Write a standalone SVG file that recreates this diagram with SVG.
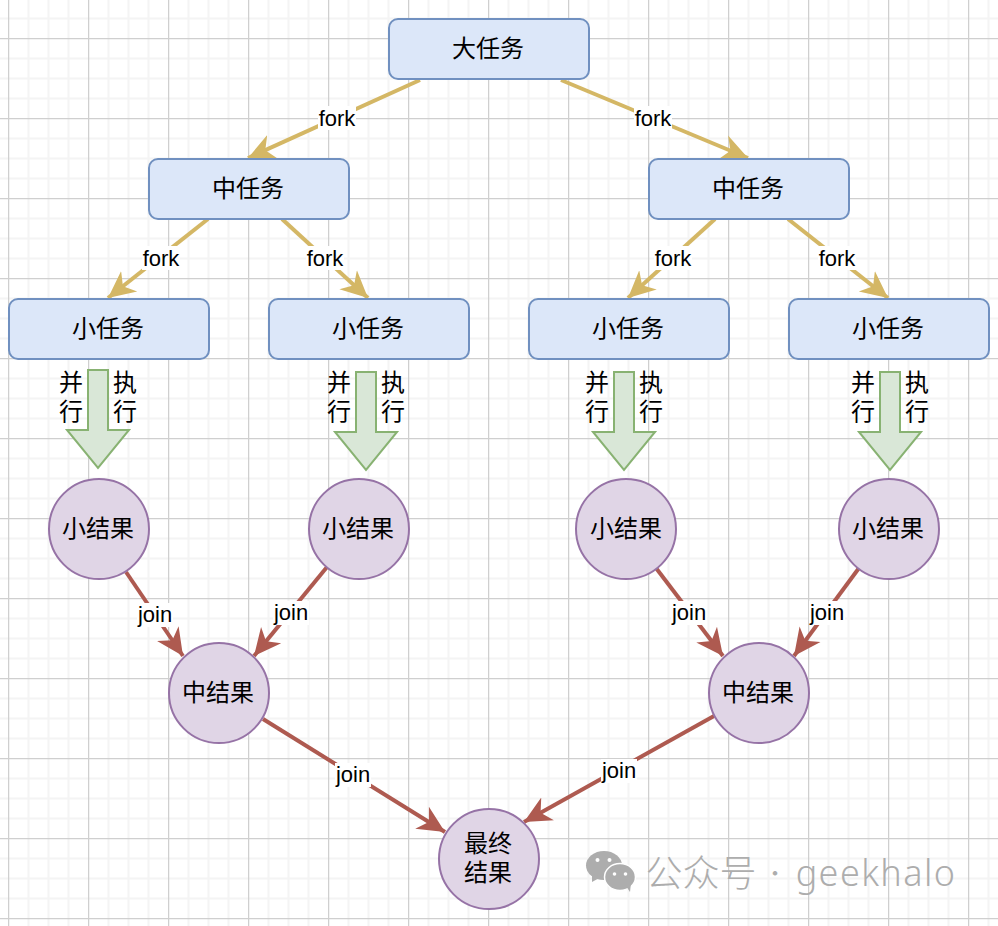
<svg xmlns="http://www.w3.org/2000/svg" width="998" height="926" viewBox="0 0 998 926">
<style>
.box{fill:#dce7f9;stroke:#7090c0;stroke-width:2}
.cir{fill:#e0d5e6;stroke:#9673a6;stroke-width:2}
.blk{fill:#d9e7d7;stroke:#88b272;stroke-width:2}
text{font-family:"Noto Sans CJK SC","Liberation Sans",sans-serif;fill:#000;text-anchor:middle;dominant-baseline:central}
.n{font-size:24px}
.l{font-family:"Liberation Sans",Arial,sans-serif;font-size:22px}
.bg{fill:#fff}
.f{fill:none;stroke:#d4b765;stroke-width:4;marker-end:url(#af)}
.j{fill:none;stroke:#ae5a50;stroke-width:4;marker-end:url(#aj)}
.w{fill:#adadad;font-weight:300}
</style>
<defs>
<pattern id="g" patternUnits="userSpaceOnUse" x="8" y="38" width="80" height="80">
<path d="M20.5 0V80M40.5 0V80M60.5 0V80M0 20.5H80M0 40.5H80M0 60.5H80" stroke="#f4f4f4" stroke-width="2" fill="none"/>
<path d="M.5 0V80M0 .5H80" stroke="#cfcfcf" stroke-width="1.5" fill="none"/>
</pattern>
<marker id="af" markerUnits="userSpaceOnUse" viewBox="0 0 28 28" refX="27" refY="14" markerWidth="28" markerHeight="28" orient="auto">
<path d="M27 14L0 1L8 14L0 27Z" fill="#d4b765"/>
</marker>
<marker id="aj" markerUnits="userSpaceOnUse" viewBox="0 0 28 28" refX="27" refY="14" markerWidth="28" markerHeight="28" orient="auto">
<path d="M27 14L0 1L8 14L0 27Z" fill="#ae5a50"/>
</marker>
</defs>
<rect width="998" height="926" fill="#fff"/>
<rect width="998" height="926" fill="url(#g)"/>
<g id="connectors">
<path class="f" d="M420 80L248 158"/>
<path class="f" d="M561 80L748 158"/>
<path class="f" d="M208 219L108 298"/>
<path class="f" d="M282 219L368 298"/>
<path class="f" d="M715 219L628 298"/>
<path class="f" d="M788 219L888 298"/>
<path class="j" d="M126 572L183 656"/>
<path class="j" d="M327 567L254 656"/>
<path class="j" d="M263 719L445 832"/>
<path class="j" d="M656 568L723 656"/>
<path class="j" d="M859 568L794 656"/>
<path class="j" d="M714 716L524 822"/>
<rect class="bg" x="318" y="106" width="38" height="24"/><text class="l" x="337" y="118">fork</text>
<rect class="bg" x="634" y="106" width="38" height="24"/><text class="l" x="653" y="118">fork</text>
<rect class="bg" x="142" y="246" width="38" height="24"/><text class="l" x="161" y="258">fork</text>
<rect class="bg" x="306" y="246" width="38" height="24"/><text class="l" x="325" y="258">fork</text>
<rect class="bg" x="654" y="246" width="38" height="24"/><text class="l" x="673" y="258">fork</text>
<rect class="bg" x="818" y="246" width="38" height="24"/><text class="l" x="837" y="258">fork</text>
<rect class="bg" x="137" y="603" width="36" height="24"/><text class="l" x="155" y="614">join</text>
<rect class="bg" x="273" y="601" width="36" height="24"/><text class="l" x="291" y="612">join</text>
<rect class="bg" x="335" y="763" width="36" height="24"/><text class="l" x="353" y="774">join</text>
<rect class="bg" x="671" y="601" width="36" height="24"/><text class="l" x="689" y="612">join</text>
<rect class="bg" x="809" y="601" width="36" height="24"/><text class="l" x="827" y="612">join</text>
<rect class="bg" x="601" y="759" width="36" height="24"/><text class="l" x="619" y="770">join</text>
</g>
<g id="big"><rect class="box" x="389" y="19" width="200" height="60" rx="9"/><text class="n" x="488" y="46">大任务</text></g>
<g id="mid1"><rect class="box" x="149" y="159" width="200" height="60" rx="9"/><text class="n" x="248" y="186">中任务</text></g>
<g id="mid2"><rect class="box" x="649" y="159" width="200" height="60" rx="9"/><text class="n" x="748" y="186">中任务</text></g>
<g id="small1"><rect class="box" x="9" y="299" width="200" height="60" rx="9"/><text class="n" x="108" y="326">小任务</text></g>
<g id="small2"><rect class="box" x="269" y="299" width="200" height="60" rx="9"/><text class="n" x="368" y="326">小任务</text></g>
<g id="small3"><rect class="box" x="529" y="299" width="200" height="60" rx="9"/><text class="n" x="628" y="326">小任务</text></g>
<g id="small4"><rect class="box" x="789" y="299" width="200" height="60" rx="9"/><text class="n" x="888" y="326">小任务</text></g>
<g id="par1"><path class="blk" d="M88 370H108V430H129L98 468L67 430H88Z"/><text class="n"><tspan x="71" y="380">并</tspan><tspan x="71" dy="29">行</tspan></text><text class="n"><tspan x="125" y="380">执</tspan><tspan x="125" dy="29">行</tspan></text></g>
<g id="par2"><path class="blk" d="M356 372H376V432H397L366 470L335 432H356Z"/><text class="n"><tspan x="339" y="380">并</tspan><tspan x="339" dy="29">行</tspan></text><text class="n"><tspan x="393" y="380">执</tspan><tspan x="393" dy="29">行</tspan></text></g>
<g id="par3"><path class="blk" d="M614 372H634V432H655L624 470L593 432H614Z"/><text class="n"><tspan x="597" y="380">并</tspan><tspan x="597" dy="29">行</tspan></text><text class="n"><tspan x="651" y="380">执</tspan><tspan x="651" dy="29">行</tspan></text></g>
<g id="par4"><path class="blk" d="M880 372H900V432H921L890 470L859 432H880Z"/><text class="n"><tspan x="863" y="380">并</tspan><tspan x="863" dy="29">行</tspan></text><text class="n"><tspan x="917" y="380">执</tspan><tspan x="917" dy="29">行</tspan></text></g>
<g id="res1"><circle class="cir" cx="99" cy="529" r="50"/><text class="n" x="98" y="526">小结果</text></g>
<g id="res2"><circle class="cir" cx="359" cy="529" r="50"/><text class="n" x="358" y="526">小结果</text></g>
<g id="res3"><circle class="cir" cx="626" cy="529" r="50"/><text class="n" x="626" y="526">小结果</text></g>
<g id="res4"><circle class="cir" cx="889" cy="529" r="50"/><text class="n" x="888" y="526">小结果</text></g>
<g id="midres1"><circle class="cir" cx="219" cy="693" r="50"/><text class="n" x="218" y="690">中结果</text></g>
<g id="midres2"><circle class="cir" cx="759" cy="693" r="50"/><text class="n" x="758" y="690">中结果</text></g>
<g id="final"><circle class="cir" cx="489" cy="859" r="50"/><text class="n"><tspan x="488" y="841">最终</tspan><tspan x="488" dy="29">结果</tspan></text></g>
<g id="watermark">
<ellipse cx="604" cy="865.500" rx="18" ry="14.500" fill="#adadad"/>
<path d="M592 874L592 882L601 877Z" fill="#adadad"/>
<ellipse cx="620" cy="877" rx="15.500" ry="13.500" fill="#adadad" stroke="#fff" stroke-width="1.500"/>
<path d="M626 886L630 892L631 883Z" fill="#adadad"/>
<circle cx="597.500" cy="860" r="2" fill="#fff"/><circle cx="609.500" cy="860" r="2" fill="#fff"/>
<circle cx="614.500" cy="874" r="1.800" fill="#fff"/><circle cx="625.500" cy="874" r="1.800" fill="#fff"/>
<text class="w" x="701" y="871" style="font-size:37px">公众号</text>
<text class="w" x="775" y="871" style="font-size:24px">·</text>
<text class="w" x="876" y="872" style="font-size:36px;font-family:'Noto Sans',sans-serif;letter-spacing:1.400px">geekhalo</text>
</g>
</svg>
